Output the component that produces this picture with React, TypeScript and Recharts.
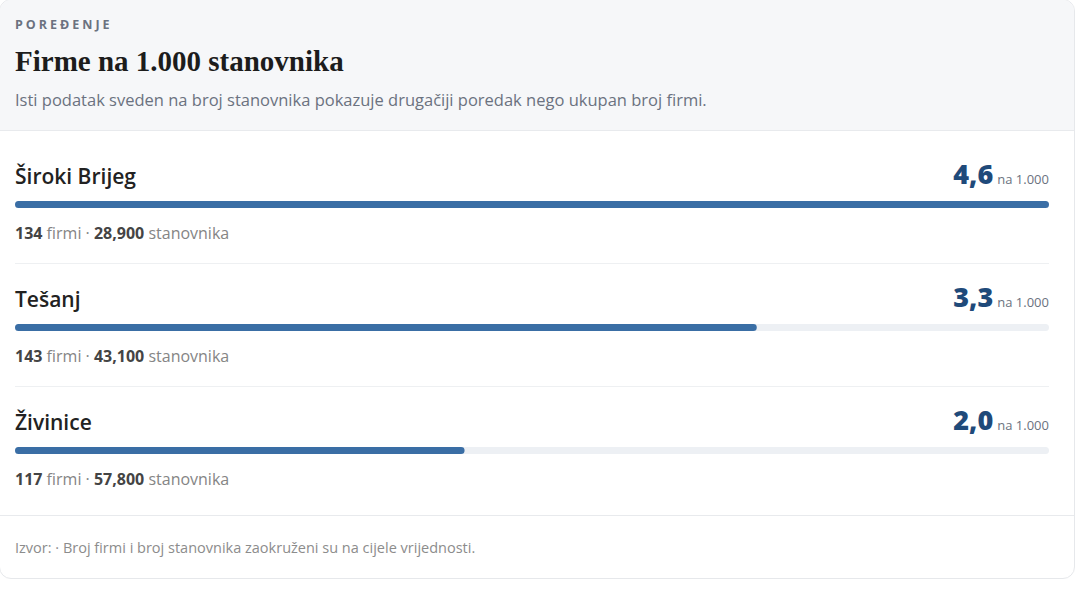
import { BarChart, Bar, XAxis, YAxis } from "recharts";

const cities = ["Široki Brijeg", "Tešanj", "Živinice"];
const perThousand = [4.6, 3.3, 2.0];
const firms = [134, 143, 117];
const population = ["28,900", "43,100", "57,800"];

const SANS = '"Open Sans", "Noto Sans", sans-serif';
const BAR_COLOR = "#3a6ea5";
const TRACK_COLOR = "#edf0f4";

function RowBar({ name, value }: { name: string; value: number }) {
  return (
    <BarChart
      width={1034}
      height={10}
      data={[{ name, value }]}
      layout="vertical"
      margin={{ top: 0, right: 0, bottom: 0, left: 0 }}
    >
      <XAxis type="number" domain={[0, 4.6]} hide />
      <YAxis type="category" dataKey="name" hide />
      <Bar
        dataKey="value"
        fill={BAR_COLOR}
        barSize={7}
        radius={4}
        background={{ fill: TRACK_COLOR, radius: 4 }}
        isAnimationActive={false}
      />
    </BarChart>
  );
}

export default function App() {
  return (
    <div style={{ position: "relative", width: 1076, height: 600, fontFamily: SANS }}>
      <style>{"body{margin:0;background:#fff}"}</style>
      <div
        style={{
          position: "absolute",
          left: -1,
          top: -1,
          width: 1076,
          height: 580,
          boxSizing: "border-box",
          border: "1px solid #e6e8eb",
          borderRadius: 12,
          overflow: "hidden",
          background: "#fff",
        }}
      >
        <div
          style={{
            height: 130,
            background: "#f6f7f9",
            borderBottom: "1px solid #e8eaed",
            paddingLeft: 15,
            boxSizing: "content-box",
          }}
        >
          <div
            style={{
              paddingTop: 16,
              lineHeight: "18px",
              fontSize: 12.5,
              fontWeight: 700,
              letterSpacing: 3,
              color: "#6b7280",
            }}
          >
            POREĐENJE
          </div>
          <div
            style={{
              marginTop: 9,
              lineHeight: "36px",
              fontSize: 29,
              fontWeight: 700,
              fontFamily: '"Liberation Serif", serif',
              color: "#1c1c1c",
            }}
          >
            Firme na 1.000 stanovnika
          </div>
          <div style={{ marginTop: 10, lineHeight: "22px", fontSize: 16.5, color: "#6b7280" }}>
            Isti podatak sveden na broj stanovnika pokazuje drugačiji poredak nego ukupan broj firmi.
          </div>
        </div>

        <div style={{ padding: "0 25px 0 15px" }}>
          {cities.map((city, i) => (
            <div
              key={city}
              style={{
                width: 1034,
                paddingTop: i === 0 ? 29 : 19,
                paddingBottom: 20,
                borderBottom: i < cities.length - 1 ? "1px solid #eef0f2" : "none",
              }}
            >
              <div
                style={{
                  display: "flex",
                  justifyContent: "space-between",
                  alignItems: "baseline",
                  height: 28,
                  lineHeight: "28px",
                }}
              >
                <span style={{ fontSize: 21, fontWeight: 600, color: "#222" }}>{city}</span>
                <span>
                  <span style={{ fontSize: 27, fontWeight: 800, color: "#1f4a7a" }}>
                    {perThousand[i].toFixed(1).replace(".", ",")}
                  </span>
                  <span style={{ fontSize: 13, color: "#6b7280", marginLeft: 4 }}>na 1.000</span>
                </span>
              </div>
              <div style={{ marginTop: 11, height: 10 }}>
                <RowBar name={city} value={perThousand[i]} />
              </div>
              <div style={{ marginTop: 14, lineHeight: "20px", fontSize: 16, color: "#858585" }}>
                <b style={{ color: "#444" }}>{firms[i]}</b> firmi ·{" "}
                <b style={{ color: "#444" }}>{population[i]}</b> stanovnika
              </div>
            </div>
          ))}
        </div>

        <div
          style={{
            position: "absolute",
            left: 0,
            right: 0,
            top: 515,
            bottom: 0,
            borderTop: "1px solid #e8eaed",
            paddingLeft: 15,
            display: "flex",
            alignItems: "center",
            fontSize: 14.5,
            color: "#8c8c8c",
          }}
        >
          Izvor: · Broj firmi i broj stanovnika zaokruženi su na cijele vrijednosti.
        </div>
      </div>
    </div>
  );
}
